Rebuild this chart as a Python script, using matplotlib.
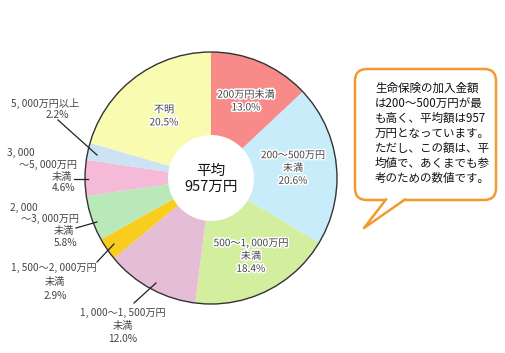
import matplotlib
matplotlib.use('Agg')
import matplotlib.pyplot as plt
import matplotlib.patheffects as pe
from matplotlib.patches import Circle, FancyBboxPatch, Polygon

plt.rcParams['font.family'] = ['Noto Sans CJK JP', 'DejaVu Sans']

# data (clockwise from 12 o'clock)
categories = ['200万円未満', '200～500万円未満', '500～1, 000万円未満',
              '1, 000～1, 500万円未満', '1, 500～2, 000万円未満',
              '2, 000～3, 000万円未満', '3, 000～5, 000万円未満',
              '5, 000万円以上', '不明']
shares = [13.0, 20.6, 18.4, 12.0, 2.9, 5.8, 4.6, 2.2, 20.5]
label_lines = [['200万円未満'], ['200～500万円', '未満'], ['500～1, 000万円', '未満'],
               ['1, 000～1, 500万円', '未満'], ['1, 500～2, 000万円', '未満'],
               ['2, 000', '～3, 000万円', '未満'], ['3, 000', '～5, 000万円', '未満'],
               ['5, 000万円以上'], ['不明']]
colors = ['#F88A8A', '#C8ECFA', '#D3EE9E', '#E6BDD6', '#F8CD1E',
          '#B9E9B9', '#F6BAD9', '#CCE3F3', '#F8FBB0']
average_label = '平均\n957万円'
note_lines = ['生命保険の加入金額', 'は200～500万円が最', 'も高く、平均額は957',
              '万円となっています。', 'ただし、この額は、平', '均値で、あくまでも参',
              '考のための数値です。']

# layout (pixel coords, y down)
cx, cy, r_out, r_in = 211, 178, 126, 43
inside_pos = {0: (246, 101), 1: (293, 168), 2: (251, 256), 8: (164, 116)}
# per-line (x center, y) for outside labels, last entry is the percent line
outside_pos = {3: [(123, 313), (123, 326), (123, 339)],
               4: [(54, 268), (55, 282), (55, 296)],
               5: [(24, 208), (50, 219), (64, 231), (66, 243)],
               6: [(21, 153), (48, 165), (62, 177), (64, 188)],
               7: [(45, 103), (57, 115)]}
leaders = {3: [(134, 303), (156, 283)], 4: [(97, 262), (114, 244)],
           5: [(76, 228), (97, 222)], 6: [(74, 179), (88, 179)],
           7: [(58, 120), (97, 155)]}

fig = plt.figure(figsize=(5.05, 3.53), dpi=100)
ax = fig.add_axes([0, 0, 1, 1])

ax.pie(shares, colors=colors, startangle=-90, counterclock=True,
       center=(cx, cy), radius=r_out, frame=True,
       wedgeprops=dict(width=r_out - r_in, linewidth=0))
ax.set_xlim(0, 505)
ax.set_ylim(353, 0)
ax.set_aspect('equal')
ax.axis('off')
ax.add_patch(Circle((cx, cy), r_out, fill=False, edgecolor='#333333', lw=1))

halo = [pe.withStroke(linewidth=2.2, foreground='white')]
for i, (x, y) in inside_pos.items():
    txt = '\n'.join(label_lines[i]) + f'\n{shares[i]:.1f}%'
    ax.text(x, y, txt, ha='center', va='center', fontsize=7.3,
            color='#444444', linespacing=1.35, path_effects=halo)

for i, pos in outside_pos.items():
    lines = label_lines[i] + [f'{shares[i]:.1f}%']
    for line, (x, y) in zip(lines, pos):
        ax.text(x, y, line, ha='center', va='center', fontsize=7.3, color='#444444')
    (x0, y0), (x1, y1) = leaders[i]
    ax.plot([x0, x1], [y0, y1], color='#222222', lw=0.9)

ax.text(cx, cy + 1, average_label, ha='center', va='center', fontsize=10.5,
        color='#111111', linespacing=1.2)

# speech bubble
orange = '#F29A2E'
box = FancyBboxPatch((355, 69), 141, 131, boxstyle='round,pad=0,rounding_size=12',
                     facecolor='white', edgecolor=orange, lw=1.8)
ax.add_patch(box)
ax.add_patch(Polygon([(386, 198), (364, 228), (405, 198)], closed=True,
                     facecolor='white', edgecolor='none', zorder=3))
ax.plot([386, 364, 405], [199.5, 228, 199.5], color=orange, lw=1.8, zorder=4)

for k, line in enumerate(note_lines):
    ax.text(375, 88 + k * 15, line, ha='left', va='center', fontsize=8.3,
            color='#111111', zorder=5)

fig.savefig('out.png', dpi=100)
